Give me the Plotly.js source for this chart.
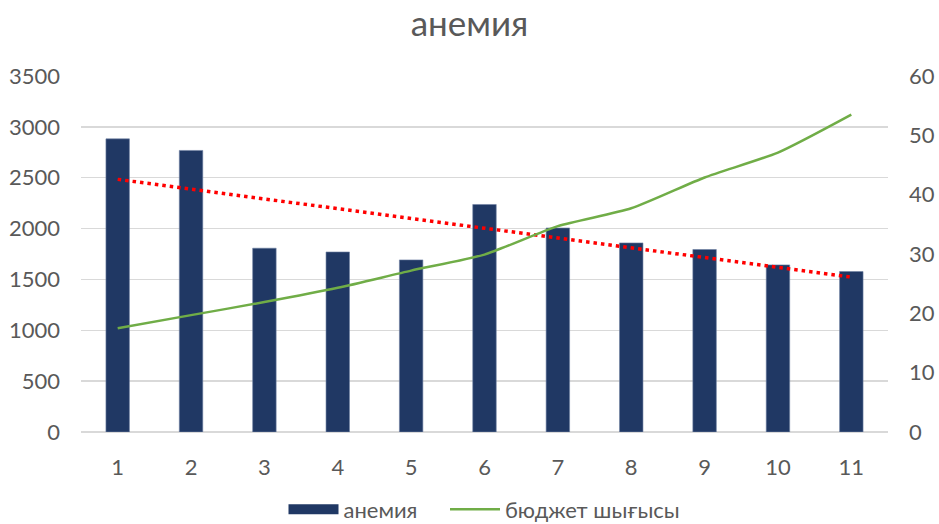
<!DOCTYPE html>
<html>
<head>
<meta charset="utf-8">
<script src="https://cdn.plot.ly/plotly-3.0.1.min.js"></script>
<style>html,body{margin:0;padding:0;background:#fff;}#chart{width:939px;height:524px;}</style>
</head>
<body>
<div id="chart"></div>
<script>
// Data
const categories = [1, 2, 3, 4, 5, 6, 7, 8, 9, 10, 11];
const anemia = [2882, 2768, 1807, 1770, 1692, 2237, 2006, 1859, 1794, 1643, 1578];
const budget = [17.5, 19.7, 21.9, 24.3, 27.2, 29.9, 34.7, 37.7, 42.9, 47.1, 53.5];
const barName = 'анемия';
const lineName = 'бюджет шығысы';
const titleText = 'анемия';

// Linear trendline of the bar series
const n = categories.length;
const mx = categories.reduce((a, b) => a + b, 0) / n;
const my = anemia.reduce((a, b) => a + b, 0) / n;
let sxy = 0, sxx = 0;
for (let i = 0; i < n; i++) { sxy += (categories[i] - mx) * (anemia[i] - my); sxx += (categories[i] - mx) ** 2; }
const slope = sxy / sxx;
const trend = categories.map(x => my + slope * (x - mx));

const font = 'Lato, "Open Sans", sans-serif';
const gray = '#595959';
const barColor = '#203864';

const traces = [
  {
    type: 'bar', x: categories, y: anemia, name: barName, showlegend: false,
    marker: {color: barColor, line: {color: '#6f82a3', width: 0.6}},
    width: 0.32
  },
  {
    // legend entry for the bar series (wide swatch like the reference)
    type: 'scatter', mode: 'lines', x: [null], y: [null], name: barName + '\u00a0\u00a0\u00a0\u00a0',
    line: {color: barColor, width: 12}, hoverinfo: 'skip'
  },
  {
    type: 'scatter', mode: 'lines', x: categories, y: trend, name: 'trend',
    showlegend: false, hoverinfo: 'skip',
    line: {color: '#ff0000', width: 3.5, dash: '3.5px,4px'}
  },
  {
    type: 'scatter', mode: 'lines', x: categories, y: budget, name: lineName,
    yaxis: 'y2', line: {color: '#70ad47', width: 2.5, shape: 'spline', smoothing: 0.6}
  }
];

const layout = {
  width: 939, height: 524,
  margin: {l: 81, r: 51, t: 76, b: 92, autoexpand: false},
  paper_bgcolor: '#fff', plot_bgcolor: '#fff',
  font: {family: font, color: gray, size: 22},
  title: {text: titleText, font: {family: font, size: 35, color: gray}, x: 0.5, xanchor: 'center',
          yref: 'container', y: 0.955, yanchor: 'middle'},
  showlegend: true,
  legend: {orientation: 'h', x: 0.5, xanchor: 'center', yref: 'container', y: 0.028, yanchor: 'middle',
           font: {family: font, size: 22, color: gray}, traceorder: 'normal', itemwidth: 50},
  xaxis: {
    tickmode: 'array', tickvals: categories, ticktext: categories.map(String),
    range: [0.5, 11.5], showgrid: false, zeroline: false,
    showline: false, ticks: '', ticklabelstandoff: 20,
    tickfont: {family: font, size: 22, color: gray}
  },
  yaxis: {
    range: [0, 3500], dtick: 500, showgrid: true, gridcolor: '#d9d9d9', gridwidth: 1.5,
    zeroline: true, zerolinecolor: '#d9d9d9', zerolinewidth: 1.5,
    ticks: '', ticklabelstandoff: 20, tickfont: {family: font, size: 22, color: gray}
  },
  yaxis2: {
    overlaying: 'y', side: 'right', range: [0, 60], dtick: 10, showgrid: false,
    zeroline: false, ticks: '', ticklabelstandoff: 20, tickfont: {family: font, size: 22, color: gray}
  },
  bargap: 0.68
};

Plotly.newPlot('chart', traces, layout, {displayModeBar: false, staticPlot: true});
</script>
</body>
</html>
